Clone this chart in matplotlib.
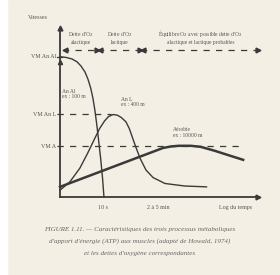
import matplotlib
matplotlib.use("Agg")
from matplotlib import pyplot as plt
from matplotlib.patches import Rectangle

# --- data (x: log du temps, arbitrary units 0-10 ; y: vitesse, 0-100) ---
an_al_x = [0, 0.3, 0.6, 0.86, 1.06, 1.26, 1.41, 1.55, 1.66, 1.76, 1.86, 1.96, 2.06, 2.15, 2.22]
an_al_y = [83, 82.6, 81.7, 80, 77.5, 74, 69.8, 64.5, 58.6, 51.5, 42.6, 32.5, 22, 11, 0]

an_l_x = [0, 0.5, 1.0, 1.4, 1.77, 2.0, 2.25, 2.45, 2.68, 2.9, 3.1, 3.33, 3.5, 3.65, 3.8,
          4.04, 4.34, 4.7, 5.3, 6.3, 7.4]
an_l_y = [4, 9, 17, 26, 35, 40.5, 45, 47.6, 48.8, 48.4, 47, 44.5, 40.5, 35.5, 30.5,
          23, 16, 11.5, 8, 6.5, 6]

aer_x = [0, 5.2, 5.6, 6.0, 6.6, 7.1, 7.8, 8.6, 9.25]
aer_y = [6, 29, 29.9, 30.3, 30.3, 29.7, 27.4, 24.4, 22]

vm_names = ["VM An Al", "VM An L", "VM A"]
vm_values = [83, 49, 30]
vm_dash_end = [None, 2.6, 9.3]

tick_pos = [2.17, 4.95, 8.85]
tick_labels = ["10 s", "2 à 5 min", "Log du temps"]

dette_bounds = [(0.25, 1.87), (2.02, 4.04), (4.19, 10.0)]
dette_labels = ["Dette d'O$_2$\nalactique", "Dette d'O$_2$\nlactique",
                "Équilibre O$_2$ avec possible dette d'O$_2$\nalactique et lactique probables"]

caption = ["FIGURE 1.11. — Caractéristiques des trois processus métaboliques",
           "d'apport d'énergie (ATP) aux muscles (adapté de Howald, 1974)",
           "et les dettes d'oxygène correspondantes"]

ink = "#3a3a3a"
txt = "#555555"
plt.rcParams["font.family"] = ["Liberation Serif", "DejaVu Serif"]

fig = plt.figure(figsize=(2.8, 2.75), dpi=100, facecolor="#f4efe4")
fig.patches.append(Rectangle((0, 0), 7 / 280, 1, transform=fig.transFigure,
                             color="white", zorder=0))
ax = fig.add_axes([60 / 280, 1 - 197 / 275, 198 / 280, 169 / 275])
ax.set_facecolor("none")
ax.set_xlim(0, 10)
ax.set_ylim(0, 100)
for s in ["top", "right"]:
    ax.spines[s].set_visible(False)
for s in ["left", "bottom"]:
    ax.spines[s].set_color(ink)
    ax.spines[s].set_linewidth(1.3)
ax.set_xticks([])
ax.set_yticks([])

# arrow heads on the axes
ax.plot(0, 100, "^", color=ink, ms=3.5, clip_on=False)
ax.plot(10, 0, ">", color=ink, ms=3.5, clip_on=False)
ax.plot(0, 80, "^", color=ink, ms=3, clip_on=False)

# curves
ax.plot(an_al_x, an_al_y, color=ink, lw=1.0, clip_on=False)
ax.plot(an_l_x, an_l_y, color=ink, lw=1.0, clip_on=False)
ax.plot(aer_x, aer_y, color=ink, lw=1.8, clip_on=False)

# VM levels
for name, v, end in zip(vm_names, vm_values, vm_dash_end):
    ax.text(-0.2, v, name, ha="right", va="center", fontsize=4.3, color=txt)
    if end is None:
        ax.plot([-0.15, 0.1], [v, v], color=ink, lw=0.9, clip_on=False)
    else:
        ax.plot([-0.15, end], [v, v], color=ink, lw=0.9, ls=(0, (5, 5)), clip_on=False)
ax.text(-1.1, 106.5, "Vitesses", ha="center", va="center", fontsize=4.3, color=txt)

# oxygen debt arrows
for (a, b), lab in zip(dette_bounds, dette_labels):
    ax.plot([a, b], [87, 87], color=ink, lw=0.9, ls=(2, (5, 5)), clip_on=False)
    ax.plot(a, 87, "<", color=ink, ms=3.5, clip_on=False)
    ax.plot(b, 87, ">", color=ink, ms=3.5, clip_on=False)
    ax.text((a + b) / 2, 90, lab, ha="center", va="bottom", fontsize=4.0,
            color=txt, linespacing=1.1)

# curve labels
ax.text(0.1, 58, "An Al\nex : 100 m", ha="left", va="bottom", fontsize=4.0, color=txt, linespacing=1.1)
ax.text(3.1, 53, "An L\nex : 400 m", ha="left", va="bottom", fontsize=4.0, color=txt, linespacing=1.1)
ax.text(5.7, 35, "Aérobie\nex : 10000 m", ha="left", va="bottom", fontsize=4.0, color=txt, linespacing=1.1)

# x labels
for p, lab in zip(tick_pos, tick_labels):
    ax.text(p, -6, lab, ha="center", va="center", fontsize=4.3, color=txt)

# caption
for i, line in enumerate(caption):
    fig.text(0.5, 1 - (230 + 11.5 * i) / 275, line, ha="center", va="center",
             fontsize=5.0, style="italic", color="#666666")

fig.savefig("out.png", dpi=100, facecolor=fig.get_facecolor())
